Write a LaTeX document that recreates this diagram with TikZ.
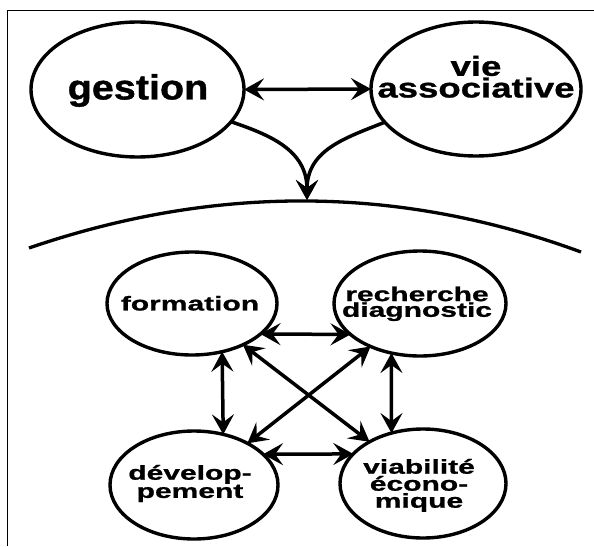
\documentclass[tikz,border=0pt]{standalone}
\usepackage{fontspec}
\usetikzlibrary{shapes.geometric,arrows.meta}
\newfontfamily\fontBig[FakeStretch=1.13,FakeBold=1]{Liberation Sans}
\newfontfamily\fontMid[FakeStretch=1.33,FakeBold=1]{Liberation Sans}
\newfontfamily\fontSmall[FakeStretch=1.5,FakeBold=1]{Liberation Sans}
\tikzset{
  bubble/.style={draw, ellipse, line width=3.4pt, inner sep=0pt, outer sep=0pt},
  bigtxt/.style={inner sep=0pt, font=\fontBig\bfseries\fontsize{35}{35}\selectfont},
  midtxt/.style={inner sep=0pt, align=center, font=\fontMid\bfseries\fontsize{27.5}{21.7}\selectfont},
  smalltxt/.style={inner sep=0pt, align=center, font=\fontSmall\bfseries\fontsize{20}{17}\selectfont},
  tiph/.tip={Stealth[length=20pt,width=22pt,inset=8pt]},
  dbl/.style={line width=3.5pt, tiph-tiph},
  onearr/.style={line width=3.5pt, -tiph},
  frameline/.style={line width=1.5pt},
  arcline/.style={line width=3.3pt}
}
\begin{document}
\begin{tikzpicture}[x=1pt,y=-1pt]
\useasboundingbox (0,0) rectangle (594,546);
% frame
\draw[frameline] (7.5,546) -- (7.5,10.5) -- (594,10.5);
% top ellipses
\node[bubble, minimum width=213pt, minimum height=135pt] (gest) at (137.5,89.5) {};
\node[bubble, minimum width=210pt, minimum height=134pt] (vie) at (476,89) {};
\node[bigtxt] (gestT) at (138,90.5) {gestion};
\node[midtxt] (vieT) at (476,76.8) {vie\\associative};
\draw[dbl] (gest.east) -- (vie.west);
% arc and converging arrows
\coordinate (meet) at (307,200);
\draw[arcline] (29,248) .. controls (215.7,184) and (399.7,185.3) .. (581,252);
\draw[onearr] (gest.-19) .. controls (270,135) and (307,150) .. (meet);
\draw[onearr] (vie.200) .. controls (345,138) and (307,150) .. (meet);
% lower ellipses
\node[bubble, minimum width=170pt, minimum height=103pt] (form) at (192,303.5) {};
\node[bubble, minimum width=172pt, minimum height=105pt] (rech) at (420,303.5) {};
\node[bubble, minimum width=168pt, minimum height=108pt] (dev) at (194,485) {};
\node[bubble, minimum width=166pt, minimum height=109pt] (viab) at (423,483.5) {};
\node[smalltxt] (formT) at (190,303.3) {formation};
\node[smalltxt, font=\fontSmall\bfseries\fontsize{20}{15.7}\selectfont] (rechT) at (417,303.8) {recherche\\diagnostic};
\node[smalltxt] (devT) at (190,483.5) {dévelop-\\pement};
\node[smalltxt] (viabT) at (419,485.4) {viabilité\\écono-\\mique};
% lower arrows
\draw[dbl] (form.-24) -- (rech.-156);
\draw[dbl] (dev.24) -- (viab.157);
\draw[dbl] (form.-58.5) -- (dev.60);
\draw[dbl] (rech.-120) -- (viab.122);
\draw[dbl] (form.-39.6) -- (viab.142);
\draw[dbl] (dev.38.4) -- (rech.-139.4);
\end{tikzpicture}
\end{document}
